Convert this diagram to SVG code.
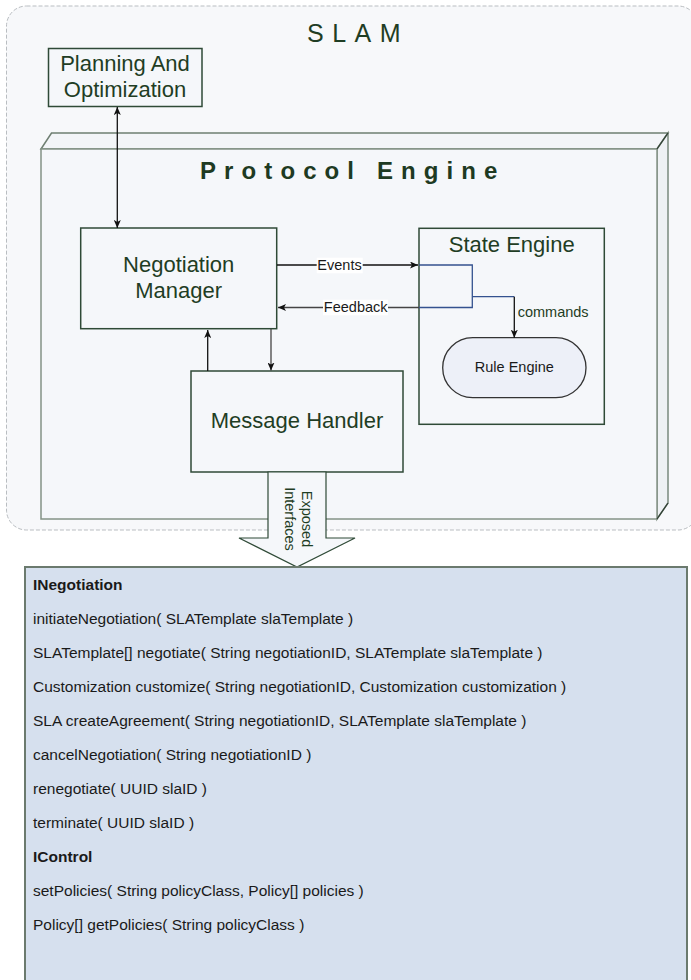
<svg xmlns="http://www.w3.org/2000/svg" width="691" height="980" viewBox="0 0 691 980">
<style>
.box{fill:#f5f7fa;stroke:#2f4a37;stroke-width:1.5}
.nl{font-family:"Liberation Sans",Arial,sans-serif;font-size:22px;fill:#1f3d24;text-anchor:middle}
.cl{font-family:"Liberation Sans",Arial,sans-serif;font-size:14.5px;fill:#1a1a1a;text-anchor:middle}
.li{font-family:"Liberation Sans",Arial,sans-serif;font-size:15.5px;fill:#1a1a1a}
.lh{font-family:"Liberation Sans",Arial,sans-serif;font-size:15.5px;fill:#1a1a1a;font-weight:bold}
.ln{fill:none;stroke:#111;stroke-width:1.3}
.blue{fill:none;stroke:#34528f;stroke-width:1.3}
</style>
<defs>
<marker id="ah" viewBox="0 0 8 7" refX="8" refY="3.5" markerWidth="8" markerHeight="7" markerUnits="userSpaceOnUse" orient="auto-start-reverse">
<path d="M0,0 L8,3.5 L0,7 L2,3.5 z" fill="#111"/>
</marker>
</defs>
<rect width="691" height="980" fill="#ffffff"/>
<g id="slam">
<rect x="6.5" y="6" width="691.5" height="524" rx="20" ry="20" fill="#f7f8fa" stroke="#b9bdc1" stroke-width="1" stroke-dasharray="4 2"/>
<text x="307" y="42" font-family="'Liberation Sans',Arial,sans-serif" font-size="25" fill="#1f3d24" letter-spacing="8.5">SLAM</text>
</g>
<g id="protocol-engine">
<polygon points="41,149 51.5,133 668,133 657,149" fill="#f3f5f8" stroke="#6f7f72" stroke-width="1.5"/>
<polygon points="657,149 668,133 668,503 657,519" fill="#eef1f4" stroke="#7a897d" stroke-width="1.5"/>
<rect x="41" y="149" width="616" height="370" fill="#f5f7fa" stroke="#849387" stroke-width="1.5"/>
<line x1="657" y1="149" x2="668" y2="133" stroke="#2f3f33" stroke-width="1.3"/>
<line x1="657" y1="519" x2="668" y2="503" stroke="#2f3f33" stroke-width="1.3"/>
<text x="200" y="179" font-family="'Liberation Sans',Arial,sans-serif" font-size="24" font-weight="bold" fill="#1e3a22" letter-spacing="8.1">Protocol Engine</text>
</g>
<g id="planning-and-optimization">
<rect class="box" x="48.5" y="48.5" width="153.5" height="58"/>
<text class="nl" x="125" y="71">Planning And</text>
<text class="nl" x="125" y="97">Optimization</text>
</g>
<g id="negotiation-manager">
<rect class="box" x="80.7" y="228" width="196" height="100.7"/>
<text class="nl" x="178.7" y="271.7">Negotiation</text>
<text class="nl" x="178.7" y="298">Manager</text>
</g>
<g id="state-engine">
<rect class="box" x="419" y="228.3" width="185.3" height="196"/>
<text class="nl" x="511.7" y="251.7">State Engine</text>
</g>
<g id="rule-engine">
<rect x="442.7" y="337.7" width="143.3" height="60" rx="30" ry="30" fill="#edf0f8" stroke="#333" stroke-width="1.3"/>
<text class="cl" x="514.3" y="371.7" font-size="15">Rule Engine</text>
</g>
<g id="message-handler">
<rect class="box" x="191" y="371" width="212" height="101"/>
<text class="nl" x="297" y="428">Message Handler</text>
</g>
<g id="connectors">
<line class="ln" x1="117.3" y1="107" x2="117.3" y2="228" marker-start="url(#ah)" marker-end="url(#ah)"/>
<line class="ln" x1="277" y1="265" x2="418" y2="265" marker-end="url(#ah)"/>
<line x1="419" y1="307.5" x2="278" y2="307.5" fill="none" stroke="#444" stroke-width="1.3" marker-end="url(#ah)"/>
<polyline class="blue" points="419,265 472.3,265 472.3,307.5 419,307.5"/>
<polyline class="blue" points="472.3,296.7 514.3,296.7"/>
<line class="ln" x1="514.3" y1="296.7" x2="514.3" y2="337.7" marker-end="url(#ah)"/>
<line class="ln" x1="207.7" y1="371" x2="207.7" y2="330" marker-end="url(#ah)"/>
<line x1="271" y1="329" x2="271" y2="370.5" fill="none" stroke="#444" stroke-width="1.3" marker-end="url(#ah)"/>
<rect x="316.7" y="257.7" width="46" height="15.6" fill="#ffffff"/>
<text class="cl" x="339.5" y="270">Events</text>
<rect x="323" y="299.7" width="65" height="15.6" fill="#ffffff"/>
<text class="cl" x="355.7" y="312.3">Feedback</text>
<text class="cl" x="517.7" y="317.3" style="text-anchor:start;fill:#1f3d24">commands</text>
</g>
<g id="exposed-interfaces">
<polygon points="268,472 326,472 326,538 355,538 297,567 239,538 268,538" fill="#f5f7fa" stroke="#2f4a37" stroke-width="1.2"/>
<g transform="translate(297,519) rotate(90)">
<text x="0" y="-5" font-family="'Liberation Sans',Arial,sans-serif" font-size="14.5" fill="#1f3d24" text-anchor="middle">Exposed</text>
<text x="0" y="12.5" font-family="'Liberation Sans',Arial,sans-serif" font-size="14.5" fill="#1f3d24" text-anchor="middle">Interfaces</text>
</g>
</g>
<g id="interfaces-list">
<rect x="25" y="567" width="662" height="420" fill="#d6e0ee" stroke="#6b7a6e" stroke-width="2"/>
<text class="lh" x="33" y="590">INegotiation</text>
<text class="li" x="33" y="624">initiateNegotiation( SLATemplate slaTemplate )</text>
<text class="li" x="33" y="658">SLATemplate[] negotiate( String negotiationID, SLATemplate slaTemplate )</text>
<text class="li" x="33" y="692">Customization customize( String negotiationID, Customization customization )</text>
<text class="li" x="33" y="726">SLA createAgreement( String negotiationID, SLATemplate slaTemplate )</text>
<text class="li" x="33" y="760">cancelNegotiation( String negotiationID )</text>
<text class="li" x="33" y="794">renegotiate( UUID slaID )</text>
<text class="li" x="33" y="828">terminate( UUID slaID )</text>
<text class="lh" x="33" y="862">IControl</text>
<text class="li" x="33" y="896">setPolicies( String policyClass, Policy[] policies )</text>
<text class="li" x="33" y="930">Policy[] getPolicies( String policyClass )</text>
</g>
</svg>
